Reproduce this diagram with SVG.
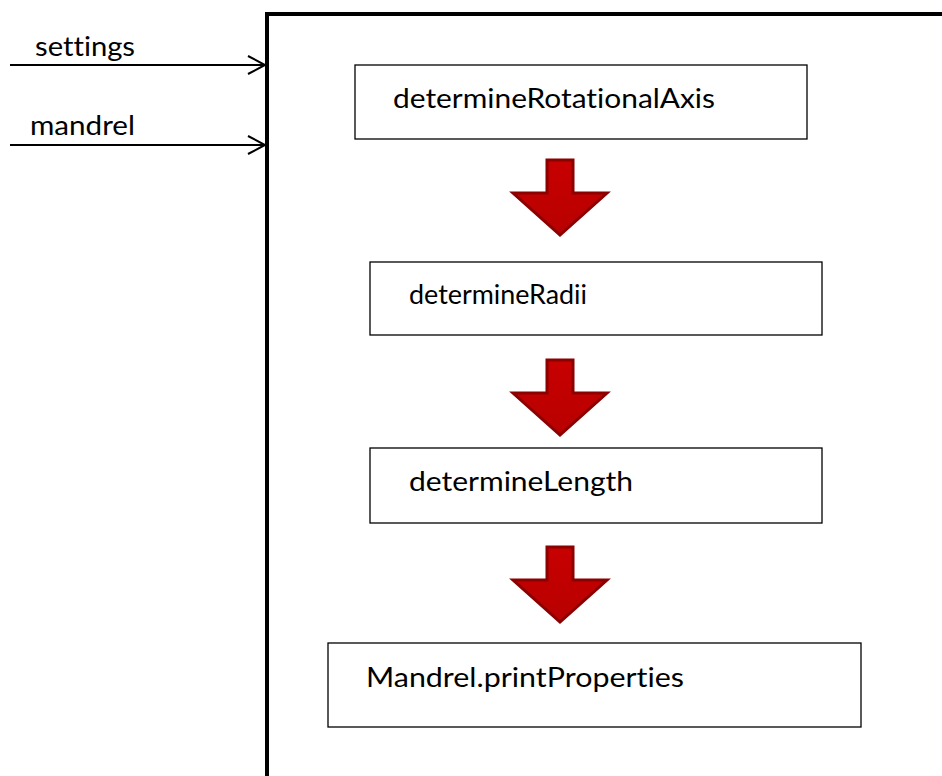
<svg xmlns="http://www.w3.org/2000/svg" width="942" height="776" viewBox="0 0 942 776">
  <style>
    .lbl { font-family: Lato, "Open Sans", "Liberation Sans", sans-serif; font-size: 26px; fill: #000; font-variant-ligatures: none; font-feature-settings: "liga" 0, "dlig" 0; }
    .box { fill: #fff; stroke: #000; stroke-width: 1.3; }
    .in { stroke: #000; stroke-width: 2; fill: none; }
    .down { fill: url(#redFill); stroke: #8b0000; stroke-width: 3; stroke-linejoin: miter; }
  </style>
  <defs>
    <linearGradient id="redFill" x1="0" y1="0" x2="0" y2="1">
      <stop offset="0" stop-color="#c80000"/>
      <stop offset="1" stop-color="#b80000"/>
    </linearGradient>
    <path id="downArrow" d="M-13 0 H13 V33 H47 L0 75 L-47 33 H-13 Z"/>
  </defs>

  <!-- enclosing module frame (only left and top edges fall inside the view) -->
  <g id="frame">
    <path d="M267 776 V14 H942" fill="none" stroke="#000" stroke-width="4"/>
  </g>

  <!-- inputs and flow arrows -->
  <g id="connectors">
    <line class="in" x1="10" y1="65" x2="265" y2="65"/>
    <polyline class="in" points="248,56 265,65 248,74"/>
    <line class="in" x1="10" y1="145" x2="265" y2="145"/>
    <polyline class="in" points="248,136 265,145 248,154"/>
    <use href="#downArrow" class="down" x="560" y="160"/>
    <use href="#downArrow" class="down" x="560" y="360"/>
    <use href="#downArrow" class="down" x="560" y="547"/>
  </g>

  <g id="settings">
    <text class="lbl" x="35" y="56" textLength="100" lengthAdjust="spacingAndGlyphs">settings</text>
  </g>
  <g id="mandrel">
    <text class="lbl" x="30" y="135" textLength="105" lengthAdjust="spacingAndGlyphs">mandrel</text>
  </g>

  <g id="determineRotationalAxis">
    <rect class="box" x="355" y="65" width="452" height="74"/>
    <text class="lbl" x="393" y="108" textLength="322" lengthAdjust="spacingAndGlyphs">determineRotationalAxis</text>
  </g>
  <g id="determineRadii">
    <rect class="box" x="370" y="262" width="452" height="73"/>
    <text class="lbl" x="409" y="304" textLength="178" lengthAdjust="spacingAndGlyphs">determineRadii</text>
  </g>
  <g id="determineLength">
    <rect class="box" x="370" y="448" width="452" height="75"/>
    <text class="lbl" x="409" y="491" textLength="224" lengthAdjust="spacingAndGlyphs">determineLength</text>
  </g>
  <g id="printProperties">
    <rect class="box" x="328" y="643" width="533" height="84"/>
    <text class="lbl" x="366" y="687" textLength="318" lengthAdjust="spacingAndGlyphs">Mandrel.printProperties</text>
  </g>
</svg>
